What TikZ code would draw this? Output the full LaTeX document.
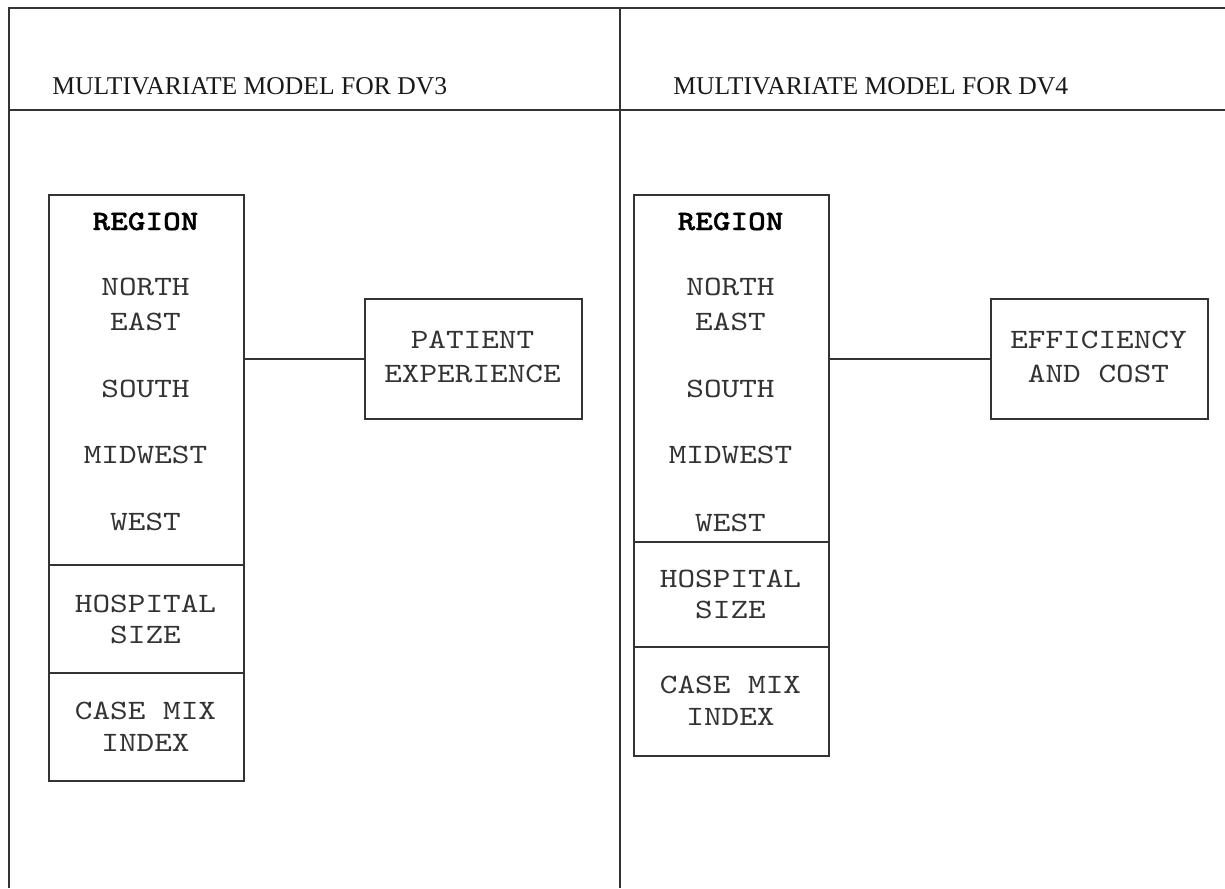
\documentclass[tikz,border=0pt]{standalone}
\usepackage{fontspec}
\setmainfont{Liberation Serif}
% slab-serif typewriter face, widened to a 0.6em pitch
\newfontfamily\typewriterface{lmmono10-regular.otf}[FakeStretch=1.2,
  BoldFont=lmmonolt10-bold.otf, BoldFeatures={FakeBold=1.2}]
\begin{document}
\begin{tikzpicture}[x=0.5pt,y=-0.5pt,
  rule/.style={draw=black!80, line width=1pt},
  boxframe/.style={draw=black!80, line width=1pt, inner sep=0pt, anchor=north west},
  lbl/.style={anchor=base, inner sep=0pt, text=black!80,
    font=\typewriterface\fontsize{14}{16}\selectfont},
  boldlbl/.style={lbl, text=black,
    font=\typewriterface\bfseries\fontsize{14}{16}\selectfont},
  ttl/.style={anchor=base west, inner sep=0pt, text=black!90,
    font=\fontsize{12.8}{14}\selectfont}]
\useasboundingbox (0,0) rectangle (1225,888);

% table frame
\coordinate (tl) at (9,8);
\coordinate (bl) at (9,888);
\coordinate (tr) at (1225,8);
\coordinate (hl) at (9,110);
\coordinate (hr) at (1225,110);
\coordinate (mt) at (620,8);
\coordinate (mb) at (620,888);
\draw[rule] (bl) -- (tl) -- (tr);
\draw[rule] (hl) -- (hr);
\draw[rule] (mt) -- (mb);

% headings
\node[ttl] (titleL) at (52,95) {MULTIVARIATE MODEL FOR DV3};
\node[ttl] (titleR) at (673,95) {MULTIVARIATE MODEL FOR DV4};

% ---- left panel ----
\node[boxframe, minimum width=97.5pt, minimum height=293pt] (regL) at (48,194) {};
\coordinate (dL1) at (0,565);
\coordinate (dL2) at (0,673);
\draw[rule] (regL.west |- dL1) -- (regL.east |- dL1);
\draw[rule] (regL.west |- dL2) -- (regL.east |- dL2);
\node[boldlbl] (rgL) at (145.5,230) {REGION};
\node[lbl] (neL1) at (145.5,295) {NORTH};
\node[lbl] (neL2) at (145.5,330) {EAST};
\node[lbl] (soL) at (145.5,397) {SOUTH};
\node[lbl] (mwL) at (145.5,463) {MIDWEST};
\node[lbl] (weL) at (145.5,530) {WEST};
\node[lbl] (hsL1) at (145.5,612) {HOSPITAL};
\node[lbl] (hsL2) at (145.5,643) {SIZE};
\node[lbl] (cmL1) at (145.5,719) {CASE MIX};
\node[lbl] (cmL2) at (145.5,751) {INDEX};

\node[boxframe, minimum width=108.5pt, minimum height=60pt] (outL) at (364,298) {};
\node[lbl] (peL1) at (472.5,348) {PATIENT};
\node[lbl] (peL2) at (472.5,382) {EXPERIENCE};
\draw[rule] (regL.east |- outL.west) -- (outL.west);

% ---- right panel ----
\node[boxframe, minimum width=97.5pt, minimum height=280.5pt] (regR) at (633,194) {};
\coordinate (dR1) at (0,542);
\coordinate (dR2) at (0,647);
\draw[rule] (regR.west |- dR1) -- (regR.east |- dR1);
\draw[rule] (regR.west |- dR2) -- (regR.east |- dR2);
\node[boldlbl] (rgR) at (730.5,230) {REGION};
\node[lbl] (neR1) at (730.5,295) {NORTH};
\node[lbl] (neR2) at (730.5,330) {EAST};
\node[lbl] (soR) at (730.5,397) {SOUTH};
\node[lbl] (mwR) at (730.5,463) {MIDWEST};
\node[lbl] (weR) at (730.5,531) {WEST};
\node[lbl] (hsR1) at (730.5,587) {HOSPITAL};
\node[lbl] (hsR2) at (730.5,618) {SIZE};
\node[lbl] (cmR1) at (730.5,693) {CASE MIX};
\node[lbl] (cmR2) at (730.5,725) {INDEX};

\node[boxframe, minimum width=108.5pt, minimum height=60pt] (outR) at (990,298) {};
\node[lbl] (ecR1) at (1098.5,348) {EFFICIENCY};
\node[lbl] (ecR2) at (1098.5,382) {AND COST};
\draw[rule] (regR.east |- outR.west) -- (outR.west);
\end{tikzpicture}
\end{document}
